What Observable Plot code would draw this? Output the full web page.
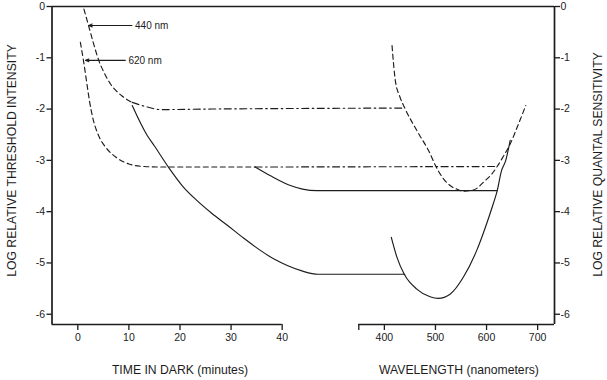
<!DOCTYPE html>
<html><head><meta charset="utf-8">
<script src="https://cdn.jsdelivr.net/npm/d3@7"></script>
<script src="https://cdn.jsdelivr.net/npm/@observablehq/plot@0.6"></script>
<style>
html,body{margin:0;padding:0;background:#fff;}
#chart{width:607px;height:380px;overflow:hidden;}
</style></head><body><div id="chart"></div>
<script>
// ---------- data ----------
const yTicks = [0, -1, -2, -3, -4, -5, -6];
const timeTicks = [0, 10, 20, 30, 40];
const wlTicks = [350, 400, 500, 600, 700];      // 350 = unlabeled end tick
const timeRange = [-5.05, 40];                   // time axis line (minutes)
const wlRange = [350, 733];                      // wavelength axis line (nm)
const yRange = [-6.2, 0];

// cone dark-adaptation, 440 nm test (dashed part)
const cone440T = [1.2, 2.1, 3.1, 4.1, 5.2, 6.4, 8.6, 10.65];
const cone440Y = [-0.05, -0.37, -0.73, -1.05, -1.3, -1.51, -1.74, -1.87];
// cone plateau 440 nm (dash-dot), ends on cone spectral curve at 440 nm
const plat440T = [10.65, 13.6, 16.2, 25, 40];
const plat440Y = [-1.87, -1.96, -2.01, -2.0, -1.99];
const plat440EndNm = 440, plat440EndY = -1.98;

// cone dark-adaptation, 620 nm test (dashed)
const cone620T = [0.5, 1.1, 1.7, 2.3, 3.0, 4.0, 5.5, 7.5, 10, 13, 16, 34.7];
const cone620Y = [-0.70, -1.05, -1.45, -1.85, -2.2, -2.5, -2.75, -2.94, -3.07, -3.12, -3.13, -3.13];
// cone plateau 620 nm (dash-dot)
const plat620T = [34.7];
const plat620Y = [-3.13];
const plat620EndNm = 620, plat620EndY = -3.12;

// rod dark-adaptation, 440 nm (solid) -> flat to scotopic curve at 440 nm
const rod440T = [10.65, 13.5, 15, 17.8, 20.5, 23.4, 26.2, 29.2, 32.5, 35.8, 38.5, 41, 44, 47];
const rod440Y = [-1.93, -2.5, -2.72, -3.14, -3.5, -3.79, -4.03, -4.26, -4.52, -4.76, -4.93, -5.05, -5.16, -5.22];
const rod440EndNm = 440;

// rod dark-adaptation, 620 nm (solid) -> flat to scotopic curve at 620 nm
const rod620T = [34.7, 37.7, 41.6, 44, 46.8];
const rod620Y = [-3.13, -3.3, -3.49, -3.56, -3.59];
const rod620EndNm = 620;

// scotopic spectral sensitivity (solid)
const scotNm = [413.6, 424.7, 439, 463.5, 489.5, 505.8, 528.6, 554.5, 580.6, 600, 613, 620.7, 629.3, 637.6, 646.3];
const scotY  = [-4.50, -4.89, -5.22, -5.51, -5.66, -5.69, -5.61, -5.28, -4.76, -4.24, -3.85, -3.60, -3.2, -3.0, -2.61];

// photopic spectral sensitivity (dashed)
const photNm = [415, 421.4, 430, 440.9, 463.7, 489.6, 500, 515, 530, 541.5, 554.5, 574, 596.7, 610, 620.7, 633, 646.3, 662.5, 676.8];
const photY  = [-0.76, -1.44, -1.75, -2.0, -2.42, -2.87, -3.1, -3.35, -3.5, -3.56, -3.6, -3.58, -3.4, -3.27, -3.12, -2.92, -2.68, -2.29, -1.93];

// annotations
const annLabels = ["440 nm", "620 nm"];
const annTipT = [2.15, 1.5];
const annTailT = [10.6, 9.3];
const annTextT = [11.2, 9.9];
const annY = [-0.37, -1.05];

// axis titles
const timeTitle = "TIME IN DARK (minutes)", timeTitleCenter = 20;
const wlTitle = "WAVELENGTH (nanometers)", wlTitleCenter = 546;
const leftTitle = "LOG RELATIVE THRESHOLD INTENSITY";
const rightTitle = "LOG RELATIVE QUANTAL SENSITIVITY";

// ---------- build ----------
// wavelength mapped onto the shared horizontal scale (10 nm = 1 minute unit)
const nm2t = nm => nm / 10 + 20;
const t2nm = t => Math.round((t - 20) * 10);
const pts = (xs, ys, f = d => d) => xs.map((x, i) => ({x: f(x), y: ys[i]}));

const cone440 = pts(cone440T, cone440Y);
const plat440 = [...pts(plat440T, plat440Y), {x: nm2t(plat440EndNm), y: plat440EndY}];
const cone620 = pts(cone620T, cone620Y);
const plat620 = [...pts(plat620T, plat620Y), {x: nm2t(plat620EndNm), y: plat620EndY}];
const rod440 = [...pts(rod440T, rod440Y), {x: nm2t(rod440EndNm), y: rod440Y[rod440Y.length - 1]}];
const rod620 = [...pts(rod620T, rod620Y), {x: nm2t(rod620EndNm), y: rod620Y[rod620Y.length - 1]}];
const scot = pts(scotNm, scotY, nm2t);
const phot = pts(photNm, photY, nm2t);
const ann = annLabels.map((s, i) => ({s, tip: annTipT[i], tail: annTailT[i], tx: annTextT[i], y: annY[i]}));

const xMin = timeRange[0], xMax = nm2t(wlRange[1]);
const ink = "#1c1c1c";
const lineOpts = {x: "x", y: "y", curve: "monotone-x", stroke: ink, strokeWidth: 1.15};
const dash = "5,3.5";
const dashDot = "7,3.5,1.5,3.5";
const tickFont = 10.5, titleFont = 12.2;

const chart = Plot.plot({
  width: 607, height: 380,
  marginLeft: 51.5, marginRight: 53, marginTop: 6, marginBottom: 56,
  style: {fontFamily: "'Liberation Sans', Arial, Helvetica, sans-serif", fontSize: "11px", color: ink, background: "#fff"},
  x: {domain: [xMin, xMax]},
  y: {domain: yRange},
  marks: [
    // frame lines
    Plot.ruleY([{y: yRange[1], x1: xMin, x2: xMax}], {y: "y", x1: "x1", x2: "x2", stroke: ink, strokeWidth: 1.7}),
    Plot.ruleX([{x: xMin}, {x: xMax}], {x: "x", y1: yRange[0], y2: yRange[1], stroke: ink, strokeWidth: 1.7}),
    Plot.ruleY([{y: yRange[0], x1: timeRange[0], x2: timeRange[1]}, {y: yRange[0], x1: nm2t(wlRange[0]), x2: xMax}],
      {y: "y", x1: "x1", x2: "x2", stroke: ink, strokeWidth: 1.7}),
    // axes
    Plot.axisY({anchor: "left", ticks: yTicks, tickFormat: d => String(d), tickSize: 5, tickPadding: 2, label: null, color: ink, strokeWidth: 1.3, fontSize: tickFont}),
    Plot.axisY({anchor: "right", ticks: yTicks, tickFormat: d => String(d), tickSize: 5, tickPadding: 1, label: null, color: ink, strokeWidth: 1.3, fontSize: tickFont}),
    Plot.axisX({anchor: "bottom", ticks: timeTicks, tickFormat: d => String(d), tickSize: 6, tickPadding: 3, label: null, color: ink, strokeWidth: 1.3, fontSize: tickFont}),
    Plot.axisX({anchor: "bottom", ticks: wlTicks.map(nm2t), tickFormat: t => (t2nm(t) === wlTicks[0] ? "" : String(t2nm(t))), tickSize: 6, tickPadding: 3, label: null, color: ink, strokeWidth: 1.3, fontSize: tickFont}),
    // curves
    Plot.line(cone440, {...lineOpts, strokeDasharray: dash}),
    Plot.line(plat440, {...lineOpts, strokeDasharray: dashDot}),
    Plot.line(cone620, {...lineOpts, strokeDasharray: dash}),
    Plot.line(plat620, {...lineOpts, strokeDasharray: dashDot}),
    Plot.line(rod440, lineOpts),
    Plot.line(rod620, lineOpts),
    Plot.line(scot, lineOpts),
    Plot.line(phot, {...lineOpts, strokeDasharray: dash}),
    // annotations
    Plot.arrow(ann, {x1: "tail", y1: "y", x2: "tip", y2: "y", stroke: ink, strokeWidth: 1.1, headLength: 5, headAngle: 45}),
    Plot.text(ann, {x: "tx", y: "y", text: "s", textAnchor: "start", fontSize: 10, fill: ink}),
    // axis titles
    Plot.text([timeTitle], {x: timeTitleCenter, frameAnchor: "bottom", dy: 49, text: d => d, fontSize: titleFont, fill: ink}),
    Plot.text([wlTitle], {x: nm2t(wlTitleCenter), frameAnchor: "bottom", dy: 49, text: d => d, fontSize: titleFont, fill: ink}),
    Plot.text([leftTitle], {frameAnchor: "left", textAnchor: "middle", dx: -40, dy: -5, rotate: -90, text: d => d, fontSize: titleFont, fill: ink}),
    Plot.text([rightTitle], {frameAnchor: "right", textAnchor: "middle", dx: 44, dy: -1, rotate: -90, text: d => d, fontSize: titleFont, fill: ink})
  ]
});
document.getElementById("chart").appendChild(chart);
</script>
</body></html>
